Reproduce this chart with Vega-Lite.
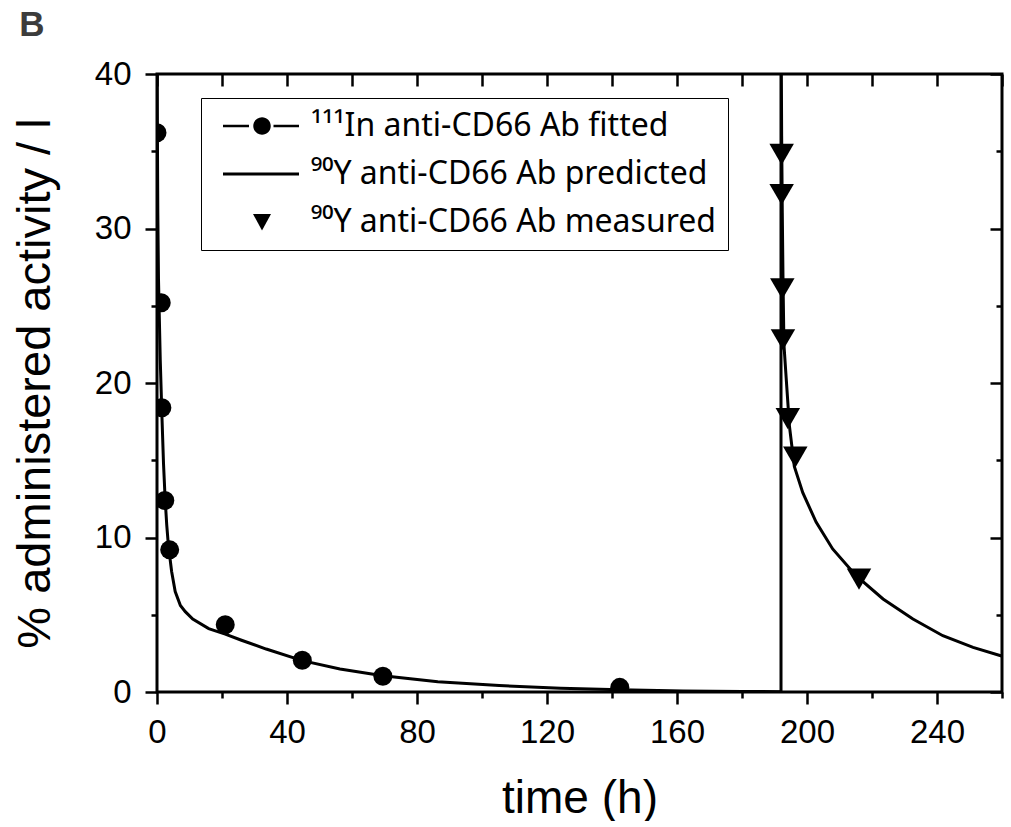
{
  "$schema": "https://vega.github.io/schema/vega-lite/v6.json",
  "width": 845,
  "height": 618,
  "padding": {"left": 11, "top": 8, "right": 8, "bottom": 0},
  "background": "white",
  "title": {"text": "B", "anchor": "start", "frame": "bounds", "fontSize": 35, "fontWeight": "bold", "color": "#3c3c3c", "font": "Liberation Sans", "offset": 15, "dx": 8},
  "config": {
    "view": {"stroke": "black", "strokeWidth": 3},
    "axis": {"grid": false, "domain": false, "labelFont": "Liberation Sans", "labelFontSize": 33, "labelColor": "black", "tickColor": "black", "tickWidth": 2.5, "titleFont": "Liberation Sans", "titleColor": "black", "titleFontWeight": "normal", "labelFlush": false, "labelOverlap": false},
    "legend": {"labelFont": "Noto Sans", "labelFontSize": 32, "labelColor": "black"}
  },
  "datasets": {
    "curve": [
      {"t": 0, "y": 42, "seg": "fit", "ord": 1},
      {"t": 0.1, "y": 37, "seg": "fit", "ord": 2},
      {"t": 0.25, "y": 31, "seg": "fit", "ord": 3},
      {"t": 0.46, "y": 26.7, "seg": "fit", "ord": 4},
      {"t": 1.0, "y": 21.5, "seg": "fit", "ord": 5},
      {"t": 1.48, "y": 18.1, "seg": "fit", "ord": 6},
      {"t": 2.0, "y": 14.8, "seg": "fit", "ord": 7},
      {"t": 2.5, "y": 12.5, "seg": "fit", "ord": 8},
      {"t": 3.0, "y": 10.8, "seg": "fit", "ord": 9},
      {"t": 3.5, "y": 9.5, "seg": "fit", "ord": 10},
      {"t": 4.5, "y": 7.8, "seg": "fit", "ord": 11},
      {"t": 5.6, "y": 6.5, "seg": "fit", "ord": 12},
      {"t": 7.2, "y": 5.6, "seg": "fit", "ord": 13},
      {"t": 8.7, "y": 5.2, "seg": "fit", "ord": 14},
      {"t": 11, "y": 4.72, "seg": "fit", "ord": 15},
      {"t": 15.9, "y": 4.1, "seg": "fit", "ord": 16},
      {"t": 21, "y": 3.75, "seg": "fit", "ord": 17},
      {"t": 26, "y": 3.35, "seg": "fit", "ord": 18},
      {"t": 33.6, "y": 2.78, "seg": "fit", "ord": 19},
      {"t": 44.7, "y": 2.03, "seg": "fit", "ord": 20},
      {"t": 56.3, "y": 1.49, "seg": "fit", "ord": 21},
      {"t": 69.5, "y": 1.05, "seg": "fit", "ord": 22},
      {"t": 86.4, "y": 0.67, "seg": "fit", "ord": 23},
      {"t": 105.3, "y": 0.42, "seg": "fit", "ord": 24},
      {"t": 124.2, "y": 0.25, "seg": "fit", "ord": 25},
      {"t": 142.4, "y": 0.14, "seg": "fit", "ord": 26},
      {"t": 161.9, "y": 0.07, "seg": "fit", "ord": 27},
      {"t": 180, "y": 0.04, "seg": "fit", "ord": 28},
      {"t": 192, "y": 0.02, "seg": "fit", "ord": 29},
      {"t": 192, "y": 0.02, "seg": "pred", "ord": 30},
      {"t": 192, "y": 45, "seg": "pred", "ord": 31},
      {"t": 192.2, "y": 36, "seg": "pred", "ord": 32},
      {"t": 192.4, "y": 31, "seg": "pred", "ord": 33},
      {"t": 192.6, "y": 27, "seg": "pred", "ord": 34},
      {"t": 192.9, "y": 22.5, "seg": "pred", "ord": 35},
      {"t": 193.6, "y": 20.3, "seg": "pred", "ord": 36},
      {"t": 194.6, "y": 17.2, "seg": "pred", "ord": 37},
      {"t": 196.1, "y": 14.6, "seg": "pred", "ord": 38},
      {"t": 198.7, "y": 12.9, "seg": "pred", "ord": 39},
      {"t": 202.8, "y": 11.0, "seg": "pred", "ord": 40},
      {"t": 207.9, "y": 9.26, "seg": "pred", "ord": 41},
      {"t": 215.1, "y": 7.53, "seg": "pred", "ord": 42},
      {"t": 223.4, "y": 6.02, "seg": "pred", "ord": 43},
      {"t": 232.6, "y": 4.72, "seg": "pred", "ord": 44},
      {"t": 241.8, "y": 3.64, "seg": "pred", "ord": 45},
      {"t": 251.1, "y": 2.89, "seg": "pred", "ord": 46},
      {"t": 260.4, "y": 2.3, "seg": "pred", "ord": 47}
    ],
    "points": [
      {"t": 0, "y": 36.2, "series": "¹¹¹In anti-CD66 Ab fitted"},
      {"t": 1.3, "y": 25.2, "series": "¹¹¹In anti-CD66 Ab fitted"},
      {"t": 1.5, "y": 18.4, "series": "¹¹¹In anti-CD66 Ab fitted"},
      {"t": 2.4, "y": 12.4, "series": "¹¹¹In anti-CD66 Ab fitted"},
      {"t": 3.9, "y": 9.2, "series": "¹¹¹In anti-CD66 Ab fitted"},
      {"t": 21, "y": 4.35, "series": "¹¹¹In anti-CD66 Ab fitted"},
      {"t": 44.7, "y": 2.05, "series": "¹¹¹In anti-CD66 Ab fitted"},
      {"t": 69.5, "y": 1.02, "series": "¹¹¹In anti-CD66 Ab fitted"},
      {"t": 142.4, "y": 0.3, "series": "¹¹¹In anti-CD66 Ab fitted"},
      {"t": 192.2, "y": 34.8, "series": "⁹⁰Y anti-CD66 Ab measured"},
      {"t": 192.2, "y": 32.2, "series": "⁹⁰Y anti-CD66 Ab measured"},
      {"t": 192.4, "y": 26.1, "series": "⁹⁰Y anti-CD66 Ab measured"},
      {"t": 192.6, "y": 22.8, "series": "⁹⁰Y anti-CD66 Ab measured"},
      {"t": 194.1, "y": 17.7, "series": "⁹⁰Y anti-CD66 Ab measured"},
      {"t": 196.4, "y": 15.2, "series": "⁹⁰Y anti-CD66 Ab measured"},
      {"t": 216, "y": 7.3, "series": "⁹⁰Y anti-CD66 Ab measured"}
    ]
  },
  "resolve": {"axis": {"x": "independent", "y": "independent"}},
  "layer": [
    {
      "data": {"name": "curve"},
      "mark": {"type": "line", "color": "black", "strokeWidth": 3, "clip": true, "interpolate": "linear"},
      "encoding": {
        "x": {"field": "t", "type": "quantitative", "scale": {"domain": [0, 260], "nice": false, "zero": false},
          "axis": {"orient": "bottom", "values": [0, 40, 80, 120, 160, 200, 240], "tickSize": 12, "labelPadding": 12, "title": "time (h)", "titleFontSize": 46, "titlePadding": 27}},
        "y": {"field": "y", "type": "quantitative", "scale": {"domain": [0, 40], "nice": false},
          "axis": {"orient": "left", "values": [0, 10, 20, 30, 40], "tickSize": 12, "labelPadding": 14, "title": "% administered activity / l", "titleFontSize": 47, "titlePadding": 35}},
        "order": {"field": "ord", "type": "quantitative"}
      }
    },
    {
      "data": {"name": "points"},
      "transform": [{"filter": "datum.series == '¹¹¹In anti-CD66 Ab fitted'"}],
      "mark": {"type": "point", "shape": "circle", "filled": true, "color": "black", "opacity": 1, "size": 361, "clip": true},
      "encoding": {
        "x": {"field": "t", "type": "quantitative",
          "axis": {"orient": "bottom", "values": [20, 60, 100, 140, 180, 220, 260], "tickSize": 6, "labels": false, "title": null}},
        "y": {"field": "y", "type": "quantitative",
          "axis": {"orient": "left", "values": [5, 15, 25, 35], "tickSize": 6, "labels": false, "title": null}}
      }
    },
    {
      "data": {"name": "points"},
      "transform": [{"filter": "datum.series == '⁹⁰Y anti-CD66 Ab measured'"}],
      "mark": {"type": "point", "shape": "triangle-down", "filled": true, "color": "black", "opacity": 1, "size": 600, "clip": true},
      "encoding": {
        "x": {"field": "t", "type": "quantitative",
          "axis": {"orient": "top", "values": [0, 20, 40, 60, 80, 100, 120, 140, 160, 180, 200, 220, 240, 260], "tickSize": -12, "labels": false, "title": null}},
        "y": {"field": "y", "type": "quantitative",
          "axis": {"orient": "right", "values": [0, 10, 20, 30, 40], "tickSize": -12, "labels": false, "title": null}}
      }
    },
    {
      "data": {"name": "points"},
      "mark": {"type": "point", "filled": true, "color": "black", "opacity": 0},
      "encoding": {
        "x": {"field": "t", "type": "quantitative", "axis": null},
        "y": {"field": "y", "type": "quantitative",
          "axis": {"orient": "right", "values": [5, 15, 25, 35], "tickSize": -6, "labels": false, "title": null}},
        "shape": {"field": "series", "type": "nominal",
          "scale": {"domain": ["¹¹¹In anti-CD66 Ab fitted", "⁹⁰Y anti-CD66 Ab predicted", "⁹⁰Y anti-CD66 Ab measured"],
            "range": ["M-7.8,-0.27H-2.6V0.27H-7.8ZM2.3,-0.27H7.4V0.27H2.3ZM-1.75,0A1.75,1.75 0 1,0 1.75,0A1.75,1.75 0 1,0 -1.75,0Z", "M-7.8,-0.32H7.4V0.32H-7.8Z", "M-1.8,-1.6L1.8,-1.6L0,1.7Z"]},
          "legend": {"title": null, "orient": "none", "legendX": 44, "legendY": 24, "symbolSize": 100, "symbolOffset": 33, "labelOffset": 33, "rowPadding": 16, "padding": 12, "labelLimit": 1000, "strokeColor": "black", "fillColor": "white", "labelFontSize": 32,
            "symbolFillColor": "black", "symbolOpacity": 1,
            "labelExpr": "(datum.index > 0 ? '\u2002' : '') + datum.label"}}
      }
    }
  ]
}
